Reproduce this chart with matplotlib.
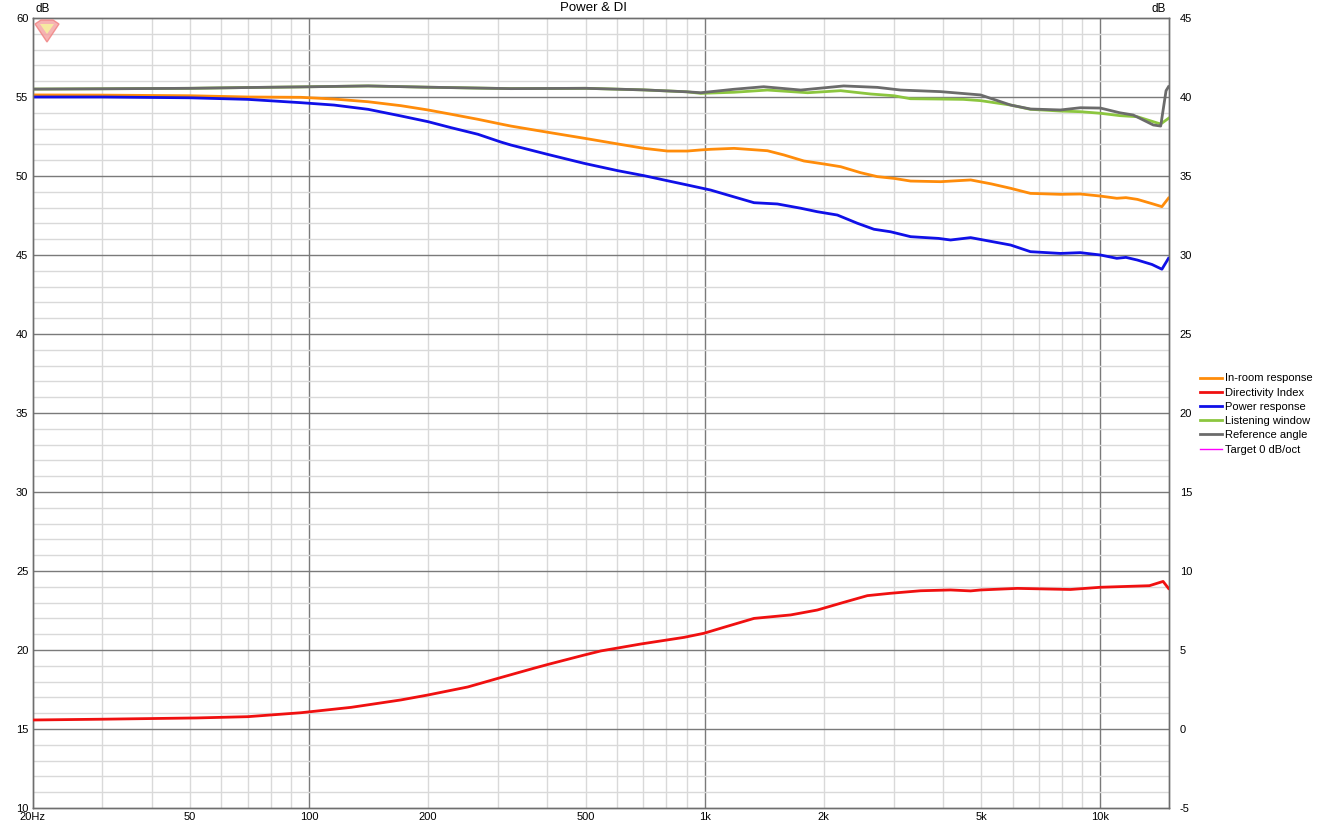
import matplotlib.pyplot as plt
import numpy as np
from matplotlib.lines import Line2D
from matplotlib.patches import Polygon

plt.rcParams['font.family'] = ['Liberation Sans', 'DejaVu Sans']
plt.rcParams['axes.unicode_minus'] = False

# in-room response (left axis, dB)
f_inroom = [20, 30, 50, 70, 95.4, 115.6, 141, 170.7, 199.7, 228.4, 267, 305, 323.7, 400.6, 495.7,
            602, 702.5, 805, 904, 977, 1035, 1186, 1440, 1586, 1781, 2001, 2205, 2477, 2730,
            3006, 3313, 3945, 4700, 5300, 5932, 6655, 7925, 8896, 10000, 11000, 11600, 12400,
            13500, 14300, 14860]
inroom = [55.13, 55.12, 55.08, 55.0, 54.98, 54.87, 54.70, 54.45, 54.18, 53.91, 53.59, 53.29,
          53.16, 52.77, 52.39, 52.03, 51.75, 51.58, 51.58, 51.65, 51.69, 51.75, 51.6, 51.33,
          50.95, 50.76, 50.59, 50.21, 49.96, 49.85, 49.68, 49.64, 49.75, 49.5, 49.22, 48.9,
          48.84, 48.86, 48.73, 48.59, 48.63, 48.52, 48.25, 48.06, 48.6]

# power response
f_power = [20, 30, 50, 70, 95.4, 115.6, 141, 170.7, 199.7, 228.4, 267.2, 305.3, 323.7, 400.6,
           495.7, 602, 702.5, 805, 904, 1035, 1141, 1332, 1526, 1748, 1925, 2163, 2430, 2676,
           2949, 3313, 3512, 3900, 4180, 4698, 5932, 6655, 7925, 8896, 10000, 11000, 11600,
           12400, 13500, 14300, 14860]
power = [55.0, 55.0, 54.95, 54.85, 54.64, 54.49, 54.22, 53.80, 53.44, 53.06, 52.64, 52.15,
         51.96, 51.37, 50.80, 50.34, 50.02, 49.70, 49.43, 49.11, 48.80, 48.31, 48.23, 47.96,
         47.74, 47.53, 47.01, 46.63, 46.47, 46.16, 46.12, 46.05, 45.95, 46.1, 45.63, 45.21,
         45.1, 45.15, 45.0, 44.79, 44.85, 44.68, 44.4, 44.1, 44.79]

# listening window
f_listen = [20, 30, 50, 70, 95.4, 141, 199.7, 323.7, 500, 700, 900, 977, 1186, 1440, 1820, 2205,
            2626, 3006, 3313, 3945, 4500, 4977, 5932, 6655, 7925, 8896, 10000, 11200, 12400,
            14200, 14860]
listen = [55.5, 55.52, 55.55, 55.6, 55.64, 55.70, 55.62, 55.53, 55.55, 55.45, 55.33, 55.23,
          55.30, 55.44, 55.27, 55.40, 55.19, 55.08, 54.89, 54.87, 54.85, 54.77, 54.49, 54.22,
          54.11, 54.07, 53.97, 53.82, 53.75, 53.29, 53.65]

# reference angle
f_ref = [20, 30, 50, 70, 95.4, 141, 199.7, 323.7, 500, 700, 900, 977, 1186, 1409, 1748, 2244,
         2730, 3126, 3945, 4977, 5932, 6655, 7925, 8896, 10000, 11200, 12100, 13600, 14200,
         14650, 14860]
ref = [55.5, 55.52, 55.55, 55.6, 55.64, 55.70, 55.62, 55.53, 55.55, 55.45, 55.33, 55.27, 55.49,
       55.65, 55.44, 55.70, 55.61, 55.44, 55.34, 55.13, 54.49, 54.24, 54.18, 54.32, 54.3, 54.0,
       53.86, 53.23, 53.16, 55.4, 55.65]

# directivity index (right axis, dB)
f_di = [20, 30, 52, 70, 95.4, 127.7, 170.7, 199.5, 251.8, 299.6, 370.6, 400.6, 495.7, 546,
        689.4, 886.7, 996, 1119, 1332, 1649, 1925, 2248, 2576, 2949, 3512, 4180, 4698, 4977,
        6170, 8400, 10000, 13300, 14400, 14860]
di = [0.57, 0.62, 0.70, 0.78, 1.03, 1.37, 1.84, 2.15, 2.66, 3.2, 3.85, 4.08, 4.68, 4.94, 5.38,
      5.8, 6.06, 6.44, 7.0, 7.22, 7.53, 8.02, 8.44, 8.59, 8.75, 8.8, 8.74, 8.8, 8.9, 8.83,
      8.97, 9.07, 9.34, 8.9]

x_ticks = [20, 50, 100, 200, 500, 1000, 2000, 5000, 10000]
x_ticklabels = ['20Hz', '50', '100', '200', '500', '1k', '2k', '5k', '10k']

fig = plt.figure(figsize=(13.2, 8.26), dpi=100)
ax = fig.add_axes([32.5 / 1320, 18 / 826, 1136 / 1320, 790 / 826])
ax2 = ax.twinx()

fmin, fmax = 20, 14860
ax.set_xscale('log')
ax.set_xlim(fmin, fmax)
ax.set_ylim(10, 60)
ax2.set_ylim(-5, 45)

# grid
minor_col = '#d9d9d9'
major_col = '#7a7a7a'
for dec in [10, 100, 1000, 10000]:
    for m in range(1, 10):
        f = dec * m
        if fmin < f < fmax:
            col = major_col if m == 1 else minor_col
            ax.axvline(f, color=col, lw=1, zorder=0)
for v in range(11, 60):
    col = major_col if v % 5 == 0 else minor_col
    ax.axhline(v, color=col, lw=1, zorder=0 if v % 5 else 0.5)

ax.set_xticks(x_ticks)
ax.set_xticklabels(x_ticklabels)
ax.xaxis.set_minor_locator(plt.NullLocator())
ax.set_yticks(range(10, 61, 5))
ax2.set_yticks(range(-5, 46, 5))
ax.tick_params(axis='both', length=0, labelsize=8, pad=3)
ax2.tick_params(axis='y', length=0, labelsize=8, pad=8)
for spine in list(ax.spines.values()) + list(ax2.spines.values()):
    spine.set_color('#6e6e6e')
    spine.set_linewidth(1)

lw = 2.0
ax.plot(f_listen, listen, color='#8cc63f', lw=lw, zorder=3)
ax.plot(f_ref, ref, color='#6b6b6b', lw=lw, zorder=4)
ax.plot(f_inroom, inroom, color='#ff8c0a', lw=lw, zorder=3)
ax.plot(f_power, power, color='#1010e8', lw=lw, zorder=3)
ax2.plot(f_di, di, color='#f01010', lw=lw, zorder=3)

fig.text(593 / 1320, 1 - 8 / 826, 'Power & DI', ha='center', va='center', fontsize=9.5)
fig.text(35 / 1320, 1 - 9 / 826, 'dB', ha='left', va='center', fontsize=8.5)
fig.text(1166 / 1320, 1 - 9 / 826, 'dB', ha='right', va='center', fontsize=8.5)

# logo
logo = Polygon(np.array([[35, 24], [41, 20], [53, 20], [59, 24], [47, 42]]) * [1, -1] / 100 + [0, 8.26],
               closed=True, facecolor='#f4a0a0', edgecolor='#f08080', alpha=0.8, zorder=10)
logo.set_transform(fig.dpi_scale_trans)
fig.patches.append(logo)
inner = Polygon(np.array([[40, 24], [54, 24], [47, 34]]) * [1, -1] / 100 + [0, 8.26],
                closed=True, facecolor='#f6f0a0', edgecolor='none', alpha=0.9, zorder=11)
inner.set_transform(fig.dpi_scale_trans)
fig.patches.append(inner)

handles = [Line2D([], [], color='#ff8c0a', lw=2),
           Line2D([], [], color='#f01010', lw=2),
           Line2D([], [], color='#1010e8', lw=2),
           Line2D([], [], color='#8cc63f', lw=2),
           Line2D([], [], color='#6b6b6b', lw=2),
           Line2D([], [], color='#ff00ff', lw=1)]
labels = ['In-room response', 'Directivity Index', 'Power response', 'Listening window',
          'Reference angle', 'Target 0 dB/oct']
fig.legend(handles, labels, loc='upper left', bbox_to_anchor=(1196 / 1320, 1 - 369 / 826),
           frameon=False, fontsize=8, handlelength=1.9, handletextpad=0.35, labelspacing=0.38,
           borderaxespad=0)

plt.savefig('out.png', dpi=100)
